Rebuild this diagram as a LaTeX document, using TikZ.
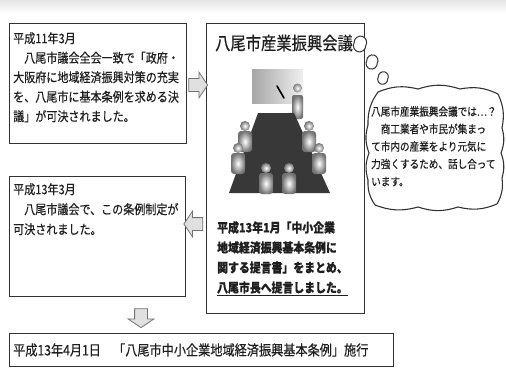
\documentclass[tikz,border=0pt]{standalone}
\usepackage{fontspec}
\newfontfamily\jp[FakeStretch=0.85,FakeBold=0.4]{Noto Sans CJK JP}
\usetikzlibrary{shapes.arrows,calc}

\tikzset{
  panel/.style={draw=black!80, line width=1.2pt, fill=white, anchor=north west, inner sep=0pt},
  txt/.style={anchor=north west, inner sep=0pt, align=left, text=black!88},
  blockarrow/.style={single arrow, draw=black!55, line width=0.8pt, fill=black!12,
    inner sep=6pt, minimum height=19pt, single arrow head extend=6.5pt,
    single arrow tip angle=112},
  cloudline/.style={draw=black!80, line width=1.1pt, fill=white},
  puffpic/.pic={
    \draw[cloudline, line width=1pt]
      (0,-8) to[bend left=55] (6,0) to[bend left=55] (0,8)
      to[bend left=55] (-6,0) to[bend left=55] (0,-8) -- cycle;
  },
  seatfig/.pic={
    \shade[inner color=white, outer color=black!55, rounded corners=3pt]
      (-7,-5) rectangle (7,16);
    \shade[inner color=white, outer color=black!55] (0,-10) circle (5);
  }
}

\begin{document}
\begin{tikzpicture}[x=1pt,y=-1pt]
\useasboundingbox (0,0) rectangle (506,369);
\fill[white] (0,0) rectangle (506,369);
\shade[top color=black!10, bottom color=white] (0,0) rectangle (506,13);

% ---- left column and bottom line ----
\node[panel, minimum width=177pt, minimum height=120pt] (b1) at (9,23) {};
\node[txt, font=\jp\fontsize{13}{19.5}\selectfont] (t1) at (13,32)
  {平成11年3月\\　八尾市議会全会一致で「政府・\\大阪府に地域経済振興対策の充実\\を、八尾市に基本条例を求める決\\議」が可決されました。};

\node[panel, minimum width=176pt, minimum height=120pt] (b2) at (9,176) {};
\node[txt, font=\jp\fontsize{13}{20}\selectfont] (t2) at (13,183)
  {平成13年3月\\　八尾市議会で、この条例制定が\\可決されました。};

\node[panel, minimum width=384pt, minimum height=33pt] (b3) at (9,333) {};
\node[txt, anchor=west, font=\jp\fontsize{14.3}{16}\selectfont] (t3) at (13,350)
  {平成13年4月1日　「八尾市中小企業地域経済振興基本条例」施行};

% ---- council box ----
\node[panel, minimum width=158pt, minimum height=290pt] (cb) at (206,23) {};
\node[anchor=center, inner sep=0pt, text=black!88, font=\jp\fontsize{18}{20}\selectfont]
  (ct) at (284,43) {八尾市産業振興会議};

% meeting illustration: screen, presenter, table and seated members
\shade[left color=black!35, right color=black!6] (252,70) rectangle (303,103);
\draw[line width=1.6pt, line cap=round] (277,86) -- (284,98);
\shade[inner color=white, outer color=black!55, rounded corners=2pt] (292,95) rectangle (303,119);
\shade[inner color=white, outer color=black!50] (297.5,88) circle (4.5);
\fill[black!78] (258,113) -- (294,113) -- (330,193) -- (229,193) -- cycle;
\pic at (245,136) {seatfig};
\pic at (238,158) {seatfig};
\pic at (309,136) {seatfig};
\pic at (319,158) {seatfig};
\pic at (266,178) {seatfig};
\pic at (289,178) {seatfig};

\node[txt, font=\jp\bfseries\fontsize{12.8}{20}\selectfont] (c2) at (217,221)
  {平成13年1月「中小企業\\地域経済振興基本条例に\\関する提言書」をまとめ、\\\underline{八尾市長へ提言しました。}};

% ---- block arrows between the panels ----
\node[blockarrow] (a1) at (196,85) {};
\node[blockarrow, shape border rotate=180] (a2) at (195.5,224) {};
\node[blockarrow, shape border rotate=270] (a3) at (141,316) {};

% ---- thought bubble ----
\pic[rotate=-15] at (360,44) {puffpic};
\pic[rotate=-15, scale=0.9] at (372,62) {puffpic};
\pic[rotate=-15, scale=0.8] at (383,78) {puffpic};

\draw[cloudline]
  (378,92) to[bend left=18] (418,89) to[bend left=18] (460,89)
  to[bend left=18] (498,94) to[bend left=18] (502,128)
  to[bend left=18] (501,153) to[bend left=18] (502,178)
  to[bend left=18] (497,204) to[bend left=18] (458,207)
  to[bend left=18] (418,207) to[bend left=18] (375,205)
  to[bend left=18] (368,180) to[bend left=18] (369,153)
  to[bend left=18] (368,125) to[bend left=18] (378,92) -- cycle;
\node[txt, font=\jp\fontsize{11.3}{17.5}\selectfont] (bt) at (371,106)
  {八尾市産業振興会議では…？\\　商工業者や市民が集まっ\\て市内の産業をより元気に\\力強くするため、話し合って\\います。};
\end{tikzpicture}
\end{document}
